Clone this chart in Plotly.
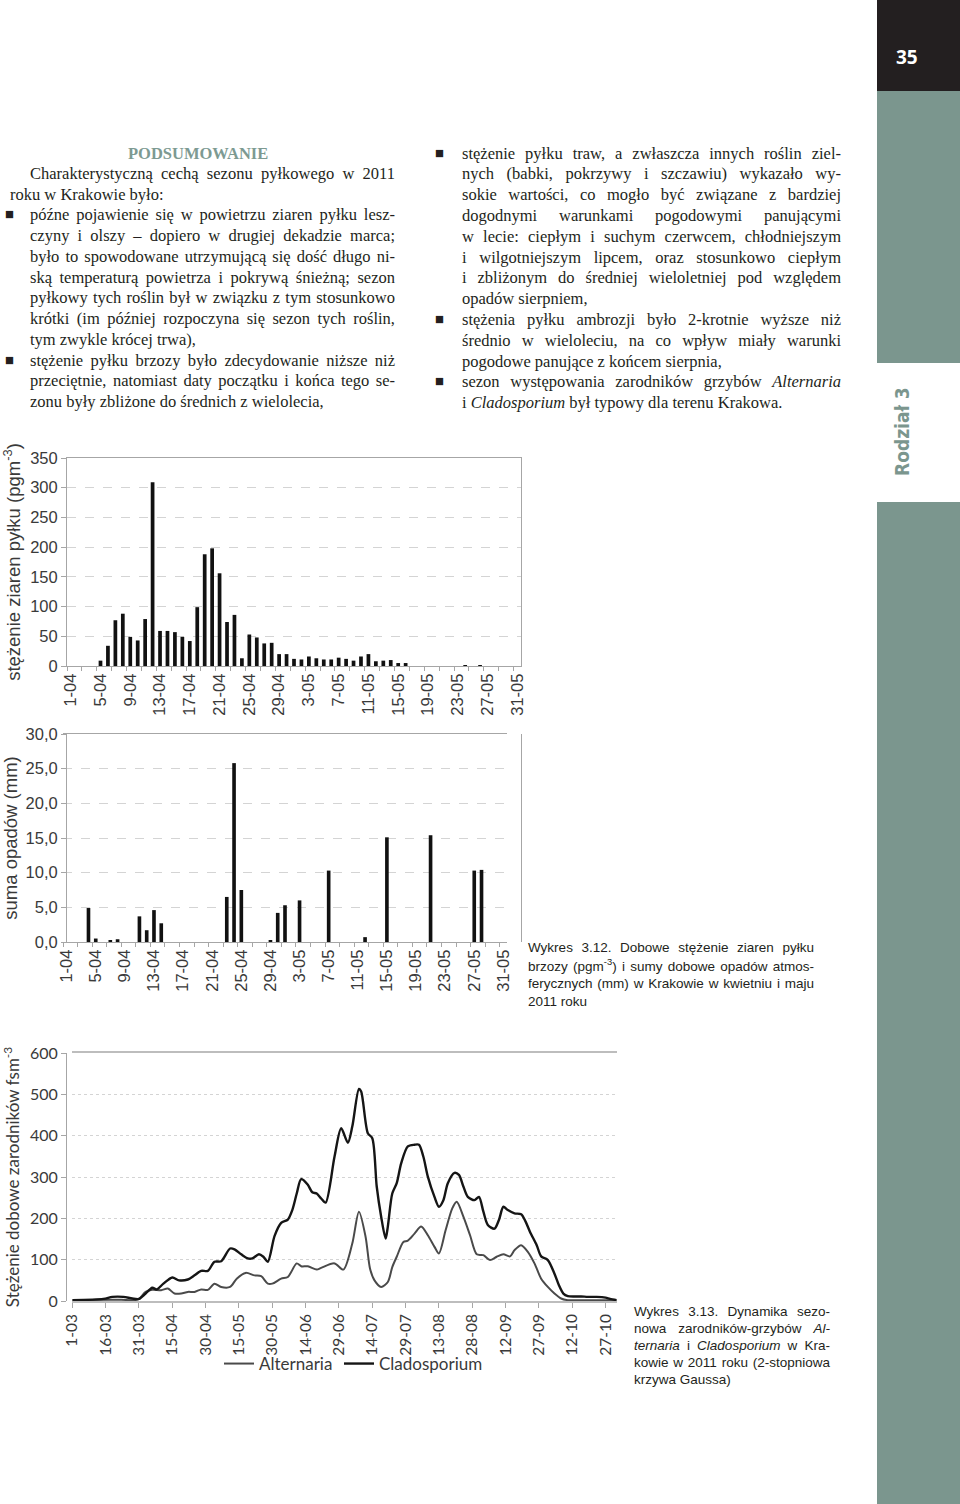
import json
import pandas as pd
import plotly.graph_objects as go

W, H = 960, 1504

# ---------------- data: chart 1 (birch pollen, 1-04 .. 31-05) ----------------
birch = [0, 0, 0, 0, 9, 34, 77, 88, 49, 43,
         79, 309, 59, 59, 57, 49, 42, 99, 188, 198,
         156, 74, 86, 13, 53, 48, 38, 39, 20, 20,
         12, 11, 16, 13, 11, 11, 14, 12, 9, 16,
         20, 8, 9, 10, 5, 5, 0, 0, 0, 0,
         0, 0, 0, 1.5, 0, 1.5, 0, 0, 0, 0, 0]

# ---------------- data: chart 2 (rainfall mm, 1-04 .. 31-05) ----------------
rain = [0, 0, 0, 4.9, 0.5, 0, 0.2, 0.4, 0, 0,
        3.7, 1.7, 4.6, 2.7, 0, 0, 0, 0, 0, 0,
        0, 0, 6.5, 25.8, 7.5, 0, 0, 0, 0.2, 4.2,
        5.3, 0, 6.0, 0, 0, 0, 10.3, 0, 0, 0,
        0, 0.7, 0, 0, 15.1, 0, 0, 0, 0, 0,
        15.4, 0, 0, 0, 0, 0, 10.3, 10.4, 0, 0, 0]

spring_labels = ["1-04", "5-04", "9-04", "13-04", "17-04", "21-04", "25-04", "29-04",
                 "3-05", "7-05", "11-05", "15-05", "19-05", "23-05", "27-05", "31-05"]

# ---------------- data: chart 3 (fungal spores, day offset from 1-03) ----------------
clad_day = [0, 14, 18, 23, 27, 30, 33, 36, 38, 41, 45, 48, 52, 55, 58, 61, 64, 67, 71, 73,
            76, 79, 81, 84, 86, 88, 91, 94, 97, 99, 101, 103, 106, 108, 110, 112, 114, 118,
            121, 124, 126, 129, 130, 133, 135, 137, 139, 141, 142, 144, 146, 148, 151, 154,
            156, 158, 160, 163, 165, 167, 169, 172, 174, 176, 178, 181, 183, 185, 187, 190,
            192, 194, 196, 199, 202, 204, 206, 209, 211, 214, 217, 219, 221, 223, 226, 229,
            232, 236, 240, 242, 245]
clad_val = [2, 5, 10, 10, 6, 5, 18, 32, 28, 42, 57, 50, 52, 62, 73, 73, 95, 96, 127, 125,
            113, 103, 103, 113, 107, 95, 157, 189, 197, 220, 260, 295, 281, 263, 260, 248, 238, 349,
            418, 383, 422, 513, 507, 406, 394, 277, 204, 151, 180, 260, 285, 333, 374, 378,
            378, 349, 301, 252, 228, 244, 285, 310, 305, 277, 252, 244, 252, 216, 184, 175,
            196, 228, 220, 212, 210, 192, 167, 135, 108, 99, 66, 38, 18, 12, 11, 11,
            10, 10, 8, 5, 2]

alt_day = [0, 17, 22, 28, 30, 33, 36, 40, 43, 46, 49, 52, 55, 58, 61, 64, 67, 71, 74, 78,
           82, 85, 88, 90, 94, 97, 101, 103, 106, 110, 112, 118, 122, 126, 129, 132, 134, 136,
           139, 142, 144, 146, 149, 151, 154, 157, 160, 163, 165, 168, 171, 173, 176, 179, 182,
           185, 188, 191, 194, 197, 199, 202, 205, 208, 211, 214, 217, 220, 223, 230, 245]
alt_val = [2, 3, 3, 2, 5, 22, 27, 26, 30, 18, 18, 22, 22, 28, 27, 42, 34, 34, 54, 68,
           62, 60, 42, 42, 54, 58, 91, 84, 84, 76, 80, 91, 76, 139, 216, 155, 78, 50,
           34, 46, 82, 107, 143, 146, 163, 180, 159, 131, 115, 171, 224, 240, 204, 159, 113,
           111, 99, 107, 113, 108, 123, 135, 119, 91, 54, 34, 18, 6, 2, 2, 2]

fungi_labels = ["1-03", "16-03", "31-03", "15-04", "30-04", "15-05", "30-05", "14-06", "29-06",
                "14-07", "29-07", "13-08", "28-08", "12-09", "27-09", "12-10", "27-10"]

# ---------------- helpers ----------------
def xd(a, b):
    return [a / W, b / W]

def yd(top, bottom):
    return [1 - bottom / H, 1 - top / H]

def px(x):
    return x / W

def py(y):
    return 1 - y / H

spring_days = pd.date_range("2011-04-01", "2011-05-31", freq="D")
spring_ticks = pd.date_range("2011-04-01", "2011-05-31", freq="4D")
spring_minor = pd.date_range("2011-03-31 12:00", "2011-06-01", freq="2D")
start3 = pd.Timestamp("2011-03-01")
clad_x = [start3 + pd.Timedelta(days=d) for d in clad_day]
alt_x = [start3 + pd.Timedelta(days=d) for d in alt_day]
fungi_ticks = pd.date_range("2011-03-01", "2011-10-27", freq="15D")

ARIAL = "Liberation Sans, Arial, sans-serif"
SERIF = "Liberation Serif, Times New Roman, serif"
CAL = "Lato, Carlito, sans-serif"
AXC = "#a6a6a6"
GRID = "#d4d4d4"
TXT = "#3a3a3a"

fig = go.Figure()
fig.add_trace(go.Bar(x=spring_days, y=birch, marker=dict(color="#111111", line=dict(width=0)),
                     xaxis="x", yaxis="y", showlegend=False))
fig.add_trace(go.Bar(x=spring_days, y=rain, marker=dict(color="#111111", line=dict(width=0)),
                     xaxis="x2", yaxis="y2", showlegend=False))
fig.add_trace(go.Scatter(x=alt_x, y=alt_val, mode="lines", name="Alternaria", legend="legend",
                         line=dict(color="#4a4a4a", width=2, shape="spline", smoothing=0.8),
                         xaxis="x3", yaxis="y3"))
fig.add_trace(go.Scatter(x=clad_x, y=clad_val, mode="lines", name="Cladosporium", legend="legend2",
                         line=dict(color="#151515", width=2.4, shape="spline", smoothing=0.8),
                         xaxis="x3", yaxis="y3"))

def spring_xaxis(domain, anchor):
    return dict(domain=domain, anchor=anchor, type="date", automargin=False,
                range=["2011-03-31 12:00", "2011-05-31 12:00"],
                tickmode="array", tickvals=list(spring_ticks), ticktext=spring_labels,
                tickangle=-90, ticks="", showgrid=False, zeroline=False,
                showline=True, linecolor=AXC, linewidth=1, mirror=True,
                tickfont=dict(family=ARIAL, size=16.5, color=TXT),
                minor=dict(tickmode="array", tickvals=list(spring_minor), ticks="outside",
                           ticklen=4, tickcolor=AXC, showgrid=False))

def cross_axis(over, anchor, domain):
    return dict(overlaying=over, matches=over, anchor=anchor, domain=domain, type="date",
                automargin=False, showticklabels=False, ticks="", showgrid=False, zeroline=False,
                showline=False,
                minor=dict(tickmode="array", tickvals=list(spring_minor), ticks="inside",
                           ticklen=4, tickcolor=AXC, showgrid=False))

def legend_at(x, y):
    return dict(orientation="h", x=px(x), xanchor="left", y=py(y), yanchor="middle",
                font=dict(family=CAL, size=17, color=TXT), itemwidth=30,
                bgcolor="rgba(0,0,0,0)", borderwidth=0)

fig.update_layout(
    width=W, height=H, margin=dict(l=0, r=0, t=0, b=0, pad=0, autoexpand=False),
    paper_bgcolor="white", plot_bgcolor="white",
    separators=", ", bargap=0.5,
    xaxis=spring_xaxis(xd(67, 521), "y"),
    yaxis=dict(domain=yd(458, 666), range=[0, 350], dtick=50, tickmode="linear", tick0=0,
               automargin=False,
               showgrid=True, gridcolor=GRID, griddash="dash", gridwidth=1, zeroline=False,
               showline=True, linecolor=AXC, mirror=True, ticks="outside", ticklen=5, tickcolor=AXC,
               tickfont=dict(family=ARIAL, size=16.5, color=TXT),
               title=dict(text="stężenie ziaren pyłku (pgm<sup>-3</sup>)",
                          font=dict(family=ARIAL, size=18.5, color=TXT), standoff=8)),
    xaxis4=cross_axis("x", "y", xd(67, 521)),
    xaxis2=spring_xaxis(xd(63, 507), "y2"),
    yaxis2=dict(domain=yd(734, 942), range=[0, 30], dtick=5, tickmode="linear", tick0=0,
                tickformat=".1f", automargin=False,
                showgrid=True, gridcolor=GRID, griddash="dash", gridwidth=1, zeroline=False,
                showline=True, linecolor=AXC, mirror=True, ticks="outside", ticklen=5, tickcolor=AXC,
                tickfont=dict(family=ARIAL, size=16.5, color=TXT),
                title=dict(text="suma opadów (mm)", font=dict(family=ARIAL, size=18.5, color=TXT),
                           standoff=8)),
    xaxis5=cross_axis("x2", "y2", xd(63, 507)),
    xaxis3=dict(domain=xd(72.3, 616.7), anchor="y3", type="date", automargin=False,
                range=["2011-03-01", "2011-11-01"],
                tickmode="array", tickvals=list(fungi_ticks), ticktext=fungi_labels,
                tickangle=-90, ticks="outside", ticklen=5, tickcolor=AXC,
                showgrid=False, zeroline=False, showline=True, linecolor="#bdbdbd", linewidth=1.5,
                mirror=True, tickfont=dict(family=CAL, size=15.5, color=TXT)),
    yaxis3=dict(domain=yd(1053, 1301), range=[0, 600], dtick=100, tickmode="linear", tick0=0,
                automargin=False,
                showgrid=True, gridcolor=GRID, griddash="dot", gridwidth=1, zeroline=False,
                showline=True, linecolor=AXC, ticks="outside", ticklen=5, tickcolor=AXC,
                tickfont=dict(family=CAL, size=16, color=TXT),
                title=dict(text="Stężenie dobowe zarodników fsm<sup>-3</sup>",
                           font=dict(family=CAL, size=17, color=TXT), standoff=10)),
    legend=legend_at(219, 1364),
    legend2=legend_at(339, 1364),
)

# ---------------- sidebar ----------------
TEAL = "#7b968e"
fig.add_shape(type="rect", xref="paper", yref="paper", x0=px(877), x1=1, y0=py(91), y1=1,
              fillcolor="#231f20", line=dict(width=0), layer="below")
fig.add_shape(type="rect", xref="paper", yref="paper", x0=px(877), x1=1, y0=py(363), y1=py(91),
              fillcolor=TEAL, line=dict(width=0), layer="below")
fig.add_shape(type="rect", xref="paper", yref="paper", x0=px(877), x1=1, y0=0, y1=py(502),
              fillcolor=TEAL, line=dict(width=0), layer="below")

ann = []
justify = []

def add_text(x, y, text, size=16.5, family=SERIF, color="#231f20", anchor="left", width=None,
             bold=False, angle=0):
    if bold:
        text = "<b>" + text + "</b>"
    ann.append(dict(xref="paper", yref="paper", x=px(x), y=py(y), text=text, showarrow=False,
                    xanchor=anchor, yanchor="middle", align="left", textangle=angle,
                    font=dict(family=family, size=size, color=color)))
    if width is not None:
        justify.append([len(ann) - 1, width])

add_text(907, 57, "35", size=19, family="Open Sans, sans-serif", color="white", anchor="center", bold=True)
add_text(902, 432, "Rodział 3", size=19, family="Liberation Sans Narrow, DejaVu Sans Condensed, sans-serif",
         color=TEAL, anchor="center", bold=True, angle=-90)

# ---------------- body text ----------------
add_text(198, 153, "PODSUMOWANIE", size=16.5, color="#7d9a92", anchor="center", bold=True)
LX, LR = 28, 393
left_lines = [
    (LX, "Charakterystyczną cechą sezonu pyłkowego w 2011", True, False),
    (8, "roku w Krakowie było:", False, False),
    (LX, "późne pojawienie się w powietrzu ziaren pyłku lesz-", True, True),
    (LX, "czyny i olszy – dopiero w drugiej dekadzie marca;", True, False),
    (LX, "było to spowodowane utrzymującą się dość długo ni-", True, False),
    (LX, "ską temperaturą powietrza i pokrywą śnieżną; sezon", True, False),
    (LX, "pyłkowy tych roślin był w związku z tym stosunkowo", True, False),
    (LX, "krótki (im później rozpoczyna się sezon tych roślin,", True, False),
    (LX, "tym zwykle krócej trwa),", False, False),
    (LX, "stężenie pyłku brzozy było zdecydowanie niższe niż", True, True),
    (LX, "przeciętnie, natomiast daty początku i końca tego se-", True, False),
    (LX, "zonu były zbliżone do średnich z wielolecia,", False, False),
]
for i, (x, t, just, bullet) in enumerate(left_lines):
    yy = 173.3 + i * 20.75
    add_text(x, yy, t, width=(LR - x) if just else None)
    if bullet:
        add_text(9, yy - 1, "■", size=9.5, family="DejaVu Sans, sans-serif", anchor="center")

RX, RR = 460, 839
right_lines = [
    ("stężenie pyłku traw, a zwłaszcza innych roślin ziel-", True, True),
    ("nych (babki, pokrzywy i szczawiu) wykazało wy-", True, False),
    ("sokie wartości, co mogło być związane z bardziej", True, False),
    ("dogodnymi warunkami pogodowymi panującymi", True, False),
    ("w lecie: ciepłym i suchym czerwcem, chłodniejszym", True, False),
    ("i wilgotniejszym lipcem, oraz stosunkowo ciepłym", True, False),
    ("i zbliżonym do średniej wieloletniej pod względem", True, False),
    ("opadów sierpniem,", False, False),
    ("stężenia pyłku ambrozji było 2-krotnie wyższe niż", True, True),
    ("średnio w wieloleciu, na co wpływ miały warunki", True, False),
    ("pogodowe panujące z końcem sierpnia,", False, False),
    ("sezon występowania zarodników grzybów <i>Alternaria</i>", True, True),
    ("i <i>Cladosporium</i> był typowy dla terenu Krakowa.", False, False),
]
for i, (t, just, bullet) in enumerate(right_lines):
    yy = 153 + i * 20.8
    add_text(RX, yy, t, width=(RR - RX) if just else None)
    if bullet:
        add_text(439, yy - 1, "■", size=9.5, family="DejaVu Sans, sans-serif", anchor="center")

# ---------------- captions ----------------
cap1 = [
    ("Wykres 3.12. Dobowe stężenie ziaren pyłku", True),
    ("brzozy (pgm<sup>-3</sup>) i sumy dobowe opadów atmos-", True),
    ("ferycznych (mm) w Krakowie w kwietniu i maju", True),
    ("2011 roku", False),
]
for i, (t, just) in enumerate(cap1):
    add_text(526, 947 + i * 18, t, size=13.5, family=ARIAL, width=(812 - 526) if just else None)

cap2 = [
    ("Wykres 3.13. Dynamika sezo-", True),
    ("nowa zarodników-grzybów <i>Al-</i>", True),
    ("<i>ternaria</i> i <i>Cladosporium</i> w Kra-", True),
    ("kowie w 2011 roku (2-stopniowa", True),
    ("krzywa Gaussa)", False),
]
for i, (t, just) in enumerate(cap2):
    add_text(632, 1311 + i * 17, t, size=13.5, family=ARIAL, width=(828 - 632) if just else None)

fig.update_layout(annotations=ann)

post = """
document.documentElement.style.margin = '0';
document.documentElement.style.padding = '0';
document.body.style.margin = '0';
document.body.style.padding = '0';
document.body.style.overflow = 'hidden';
var gd = document.getElementById('{plot_id}');
var J = %s;
function doJustify(){
  J.forEach(function(p){
    var g = gd.querySelector('g.annotation[data-index="' + p[0] + '"]');
    if(!g) return;
    var t = g.querySelector('text.annotation-text');
    if(!t) return;
    t.style.wordSpacing = '0px';
    var len = t.getComputedTextLength();
    var n = (t.textContent.match(/ /g) || []).length;
    if(n > 0){ t.style.wordSpacing = ((p[1] - len) / n) + 'px'; }
  });
}
doJustify();
""" % json.dumps(justify)

fig.write_html("out.html", post_script=post, config={"displayModeBar": False})
